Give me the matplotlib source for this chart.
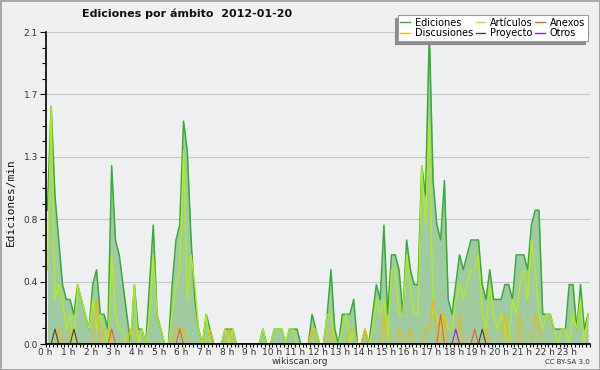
import numpy as np
import matplotlib as mpl
mpl.use('agg')
import matplotlib.pyplot as plt
from matplotlib.lines import Line2D
from matplotlib.ticker import FixedLocator, MultipleLocator, FuncFormatter

# ediciones por minuto, un valor por tramo de 10 min (00:00 -> 23:50)
ediciones = [0.9, 1.6, 1.0, 0.7, 0.4, 0.3, 0.3, 0.2, 0.4, 0.3, 0.2, 0.1,
             0.4, 0.5, 0.2, 0.2, 0.1, 1.2, 0.7, 0.6, 0.4, 0.2, 0.0, 0.4,
             0.1, 0.1, 0.0, 0.4, 0.8, 0.2, 0.1, 0.0, 0.0, 0.4, 0.7, 0.8,
             1.5, 1.3, 0.7, 0.3, 0.1, 0.0, 0.2, 0.1, 0.0, 0.0, 0.0, 0.1,
             0.1, 0.1, 0.0, 0.0, 0.0, 0.0, 0.0, 0.0, 0.0, 0.1, 0.0, 0.0,
             0.1, 0.1, 0.1, 0.0, 0.1, 0.1, 0.1, 0.0, 0.0, 0.0, 0.2, 0.1,
             0.0, 0.0, 0.2, 0.5, 0.1, 0.0, 0.2, 0.2, 0.2, 0.3, 0.0, 0.0,
             0.1, 0.0, 0.2, 0.4, 0.3, 0.8, 0.2, 0.6, 0.6, 0.5, 0.2, 0.7,
             0.5, 0.4, 0.4, 1.2, 1.0, 2.1, 1.1, 0.8, 0.7, 1.1, 0.3, 0.2,
             0.4, 0.6, 0.5, 0.6, 0.7, 0.7, 0.7, 0.4, 0.3, 0.5, 0.3, 0.3,
             0.3, 0.4, 0.4, 0.3, 0.6, 0.6, 0.6, 0.5, 0.8, 0.9, 0.9, 0.2,
             0.2, 0.2, 0.1, 0.1, 0.1, 0.1, 0.4, 0.4, 0.1, 0.4, 0.1, 0.2]

articulos = [0.5, 1.6, 0.3, 0.4, 0.3, 0.1, 0.2, 0.0, 0.4, 0.3, 0.2, 0.1,
             0.3, 0.1, 0.2, 0.1, 0.0, 0.6, 0.2, 0.1, 0.1, 0.0, 0.0, 0.4,
             0.0, 0.1, 0.0, 0.2, 0.6, 0.2, 0.1, 0.0, 0.0, 0.2, 0.4, 0.5,
             1.3, 0.3, 0.6, 0.4, 0.1, 0.0, 0.2, 0.0, 0.0, 0.0, 0.0, 0.1,
             0.0, 0.1, 0.0, 0.0, 0.0, 0.0, 0.0, 0.0, 0.0, 0.1, 0.0, 0.0,
             0.1, 0.1, 0.1, 0.0, 0.1, 0.1, 0.0, 0.0, 0.0, 0.0, 0.1, 0.1,
             0.0, 0.0, 0.2, 0.2, 0.0, 0.0, 0.1, 0.2, 0.0, 0.1, 0.0, 0.0,
             0.1, 0.0, 0.1, 0.3, 0.2, 0.3, 0.0, 0.5, 0.5, 0.2, 0.2, 0.6,
             0.4, 0.2, 0.2, 1.2, 0.8, 1.5, 0.2, 0.2, 0.1, 0.2, 0.1, 0.1,
             0.3, 0.4, 0.3, 0.4, 0.5, 0.5, 0.6, 0.2, 0.1, 0.4, 0.2, 0.1,
             0.2, 0.1, 0.0, 0.3, 0.2, 0.4, 0.5, 0.3, 0.7, 0.5, 0.2, 0.1,
             0.2, 0.2, 0.1, 0.0, 0.1, 0.1, 0.0, 0.2, 0.1, 0.3, 0.0, 0.2]

# series poco frecuentes: tramo -> valor
discusiones = {3: 0.1, 6: 0.1, 7: 0.1, 13: 0.3, 15: 0.1, 16: 0.1, 22: 0.1, 23: 0.1,
               34: 0.1, 35: 0.1, 36: 0.1, 43: 0.1, 48: 0.1, 70: 0.1, 75: 0.1,
               80: 0.1, 81: 0.1, 84: 0.1, 89: 0.2, 93: 0.1, 96: 0.1, 100: 0.1,
               101: 0.1, 102: 0.3, 105: 0.2, 109: 0.2, 116: 0.1, 121: 0.2,
               125: 0.2, 129: 0.2, 130: 0.1}
anexos = {17: 0.1, 35: 0.1, 104: 0.2, 113: 0.1}
proyecto = {2: 0.1, 7: 0.1, 115: 0.1}
otros = {108: 0.1}

hour_labels = [f"{h} h" for h in range(24)]
y_major = [0.0, 0.42, 0.84, 1.26, 1.68, 2.1]
title = "Ediciones por ámbito  2012-01-20"


def sparse_to_array(d, n):
    arr = np.zeros(n)
    for k, v in d.items():
        arr[k] = v
    return arr


n = len(ediciones)
t = (np.arange(n) + 0.5) / 6.0  # centro de cada tramo, en horas

fig = plt.figure(figsize=(6, 3.7), dpi=100, facecolor='#f0f0f0',
                 edgecolor='#a8a8a8', linewidth=2)
ax = fig.add_axes([45.5 / 600, 26 / 370, (590 - 45.5) / 600, (344 - 32) / 370])
ax.set_facecolor('#eeeff1')

col = {'Ediciones': '#3aaa3a', 'Discusiones': '#f0b800', 'Artículos': '#b4ee14',
       'Proyecto': '#444444', 'Anexos': '#f06020', 'Otros': '#8c28dc'}

ax.fill_between(t, ediciones, color='#a0cba0', lw=0, zorder=1)
ax.plot(t, ediciones, color=col['Ediciones'], lw=1.1, zorder=3)
ax.plot(t, articulos, color=col['Artículos'], lw=0.9, zorder=4)
ax.plot(t, sparse_to_array(discusiones, n), color=col['Discusiones'], lw=0.8, zorder=5)
ax.plot(t, sparse_to_array(anexos, n), color=col['Anexos'], lw=0.8, zorder=5)
ax.plot(t, sparse_to_array(proyecto, n), color=col['Proyecto'], lw=0.8, zorder=5)
ax.plot(t, sparse_to_array(otros, n), color=col['Otros'], lw=0.8, zorder=5)

ax.set_xlim(0, 24)
ax.set_ylim(0, 2.1)
ax.set_axisbelow(True)
ax.yaxis.set_major_locator(FixedLocator(y_major))
ax.yaxis.set_minor_locator(MultipleLocator(0.105))
ax.yaxis.set_major_formatter(FuncFormatter(lambda v, p: f"{v:.1f}"))
ax.xaxis.set_major_locator(FixedLocator(range(24)))
ax.xaxis.set_minor_locator(MultipleLocator(1 / 6))
ax.set_xticklabels(hour_labels)
ax.yaxis.grid(True, color='#c8c8c8', lw=0.8)
ax.tick_params(which='both', direction='out', color='black', width=0.8,
               labelsize=6.5, labelcolor='#333333')
ax.tick_params(axis='y', which='major', length=4, pad=1.5)
ax.tick_params(axis='y', which='minor', length=3)
ax.tick_params(axis='x', which='both', length=2.5, pad=0.3)
for s in ['top', 'right']:
    ax.spines[s].set_visible(False)
for s in ['left', 'bottom']:
    ax.spines[s].set_linewidth(1.2)
    ax.spines[s].set_zorder(6)

order = ['Ediciones', 'Discusiones', 'Artículos', 'Proyecto', 'Anexos', 'Otros']
handles = [Line2D([], [], color=col[k], lw=1.0) for k in order]
leg = fig.legend(handles, order, ncol=3, loc='upper right',
                 bbox_to_anchor=(593 / 600, 1 - 10 / 370), fontsize=7,
                 frameon=True, fancybox=False, framealpha=1, edgecolor='#999999',
                 shadow={'ox': -2, 'oy': -2, 'shade': 0.45, 'alpha': 1},
                 handlelength=1.0, handletextpad=0.5, columnspacing=0.25,
                 labelspacing=0.05, borderpad=0.3)
leg.get_frame().set_linewidth(0.8)

fig.text(0.3125, 1 - 14 / 370, title, ha='center', va='center',
         fontsize=8, fontweight='bold', color='#111111')
fig.text(0.018, 0.454, "Ediciones/min", rotation=90, ha='center', va='center',
         fontsize=8, family='DejaVu Sans Mono', color='#111111')
fig.text(0.5, 1 - 361 / 370, "wikiscan.org", ha='center', va='center',
         fontsize=6.5, color='#333333')
fig.text(590 / 600, 1 - 362 / 370, "CC BY-SA 3.0", ha='right', va='center',
         fontsize=5, color='#333333')

fig.savefig("out.png", dpi=100, facecolor=fig.get_facecolor(),
            edgecolor=fig.get_edgecolor())
